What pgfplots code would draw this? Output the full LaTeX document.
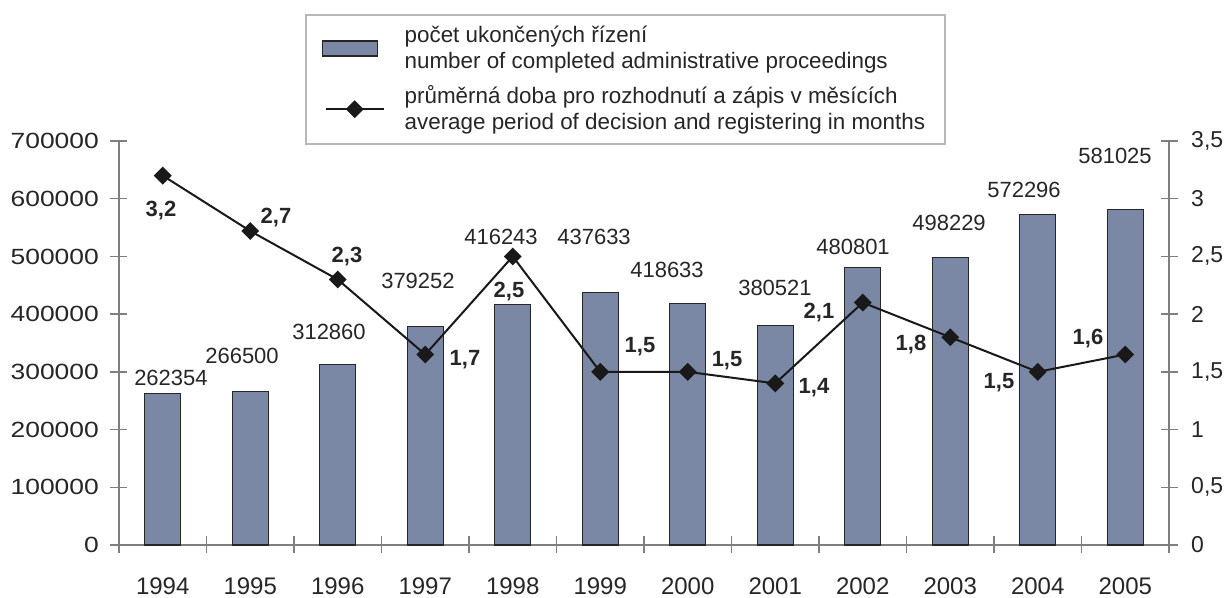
\documentclass[border=0pt]{standalone}
\usepackage{fontspec}
\setmainfont{Liberation Sans}
\newfontfamily\widefont{Liberation Sans}[FakeStretch=1.2]
\usepackage{pgfplots}
\pgfplotsset{compat=1.18}
\definecolor{barcol}{HTML}{7A87A5}
\definecolor{axcol}{HTML}{7F7F7F}
\definecolor{legcol}{HTML}{B8B8B8}
\begin{document}
\fontsize{11}{13}\selectfont
\begin{tikzpicture}
\begin{axis}[
  scale only axis,
  width=525pt, height=202pt,
  xmin=-0.5, xmax=11.5,
  ymin=0, ymax=700000,
  axis x line=bottom, axis y line=left,
  axis line style={-, axcol, line width=0.7pt},
  xtick={-0.5,0.5,1.5,2.5,3.5,4.5,5.5,6.5,7.5,8.5,9.5,10.5,11.5},
  x tick label as interval,
  xticklabels={1994,1995,1996,1997,1998,1999,2000,2001,2002,2003,2004,2005},
  ytick={0,100000,200000,300000,400000,500000,600000,700000},
  yticklabels={0,100000,200000,300000,400000,500000,600000,700000},
  scaled y ticks=false,
  tick align=center,
  major tick length=8.5pt,
  tick style={axcol, line width=0.7pt},
  yticklabel style={font=\widefont\fontsize{11}{13}\selectfont, text=black!85, xshift=-2pt},
  xticklabel style={font=\fontsize{12}{14}\selectfont, text=black!85, yshift=-8.5pt},
  clip=false,
]
\coordinate (O) at (rel axis cs:0,0);
\addplot[ybar, bar width=18pt, fill=barcol, draw=black!85, line width=0.6pt]
  coordinates {(0,262354) (1,266500) (2,312860) (3,379252) (4,416243) (5,437633)
               (6,418633) (7,380521) (8,480801) (9,498229) (10,572296) (11,581025)};
\begin{scope}[every node/.style={font=\fontsize{11}{13}\selectfont, text=black!85}]
\node at (axis cs:0.094,289356) {262354};
\node at (axis cs:0.906,327475) {266500};
\node at (axis cs:1.9,369059) {312860};
\node at (axis cs:2.917,457426) {379252};
\node at (axis cs:3.866,533663) {416243};
\node at (axis cs:4.929,533663) {437633};
\node at (axis cs:5.763,476485) {418633};
\node at (axis cs:6.997,445297) {380521};
\node at (axis cs:7.889,516337) {480801};
\node at (axis cs:8.986,557921) {498229};
\node at (axis cs:9.843,615099) {572296};
\node at (axis cs:10.883,674010) {581025};
\node at (axis cs:-0.02,578713) {\textbf{3,2}};
\node at (axis cs:1.294,566583) {\textbf{2,7}};
\node at (axis cs:2.106,499009) {\textbf{2,3}};
\node at (axis cs:3.454,320545) {\textbf{1,7}};
\node at (axis cs:3.957,438366) {\textbf{2,5}};
\node at (axis cs:5.454,343069) {\textbf{1,5}};
\node at (axis cs:6.449,318812) {\textbf{1,5}};
\node at (axis cs:7.443,272030) {\textbf{1,4}};
\node at (axis cs:7.5,401980) {\textbf{2,1}};
\node at (axis cs:8.551,346535) {\textbf{1,8}};
\node at (axis cs:9.557,280693) {\textbf{1,5}};
\node at (axis cs:10.574,356931) {\textbf{1,6}};
\end{scope}
\end{axis}
\begin{axis}[
  scale only axis,
  width=525pt, height=202pt,
  xmin=-0.5, xmax=11.5,
  ymin=0, ymax=3.5,
  axis y line=right, axis x line=none,
  axis line style={-, axcol, line width=0.7pt},
  ytick={0,0.5,1,1.5,2,2.5,3,3.5},
  yticklabels={0,{0,5},1,{1,5},2,{2,5},3,{3,5}},
  tick align=center,
  major tick length=8.5pt,
  tick style={axcol, line width=0.7pt},
  yticklabel style={font=\fontsize{11.5}{13}\selectfont, text=black!85, xshift=3pt},
  legend style={at={(0.177,1.315)}, anchor=north west, draw=legcol, line width=1pt,
    font=\fontsize{11.2}{13}\selectfont, cells={align=left, anchor=west},
    inner xsep=8pt, inner ysep=3.5pt, column sep=8pt, row sep=3pt, text=black!85},
  legend cell align=left,
  clip=false,
]
\addlegendimage{legend image code/.code={\draw[draw=black!85, fill=barcol, line width=0.8pt] (2.5pt,-3.75pt) rectangle (30pt,3.75pt);}}
\addlegendentry{počet ukončených řízení\\number of completed administrative proceedings}
\addplot[black!90, line width=1pt, mark=square*, mark size=2.65pt, mark options={rotate=45, solid},
  legend image code/.code={\draw[black!90, line width=1pt, mark=square*, mark size=2.65pt, mark options={rotate=45}, mark repeat=2, mark phase=2] plot coordinates {(4pt,0pt) (18.5pt,0pt) (33pt,0pt)};}]
  coordinates {(0,3.2) (1,2.72) (2,2.3) (3,1.65) (4,2.5) (5,1.5) (6,1.5) (7,1.4) (8,2.1) (9,1.8) (10,1.5) (11,1.65)};
\addlegendentry{průměrná doba pro rozhodnutí a zápis v měsících\\average period of decision and registering in months}
\end{axis}
\pgfresetboundingbox
\path[use as bounding box] ([xshift=-59.5pt,yshift=-26.5pt]O) rectangle ([xshift=554pt,yshift=272.5pt]O);
\end{tikzpicture}
\end{document}
